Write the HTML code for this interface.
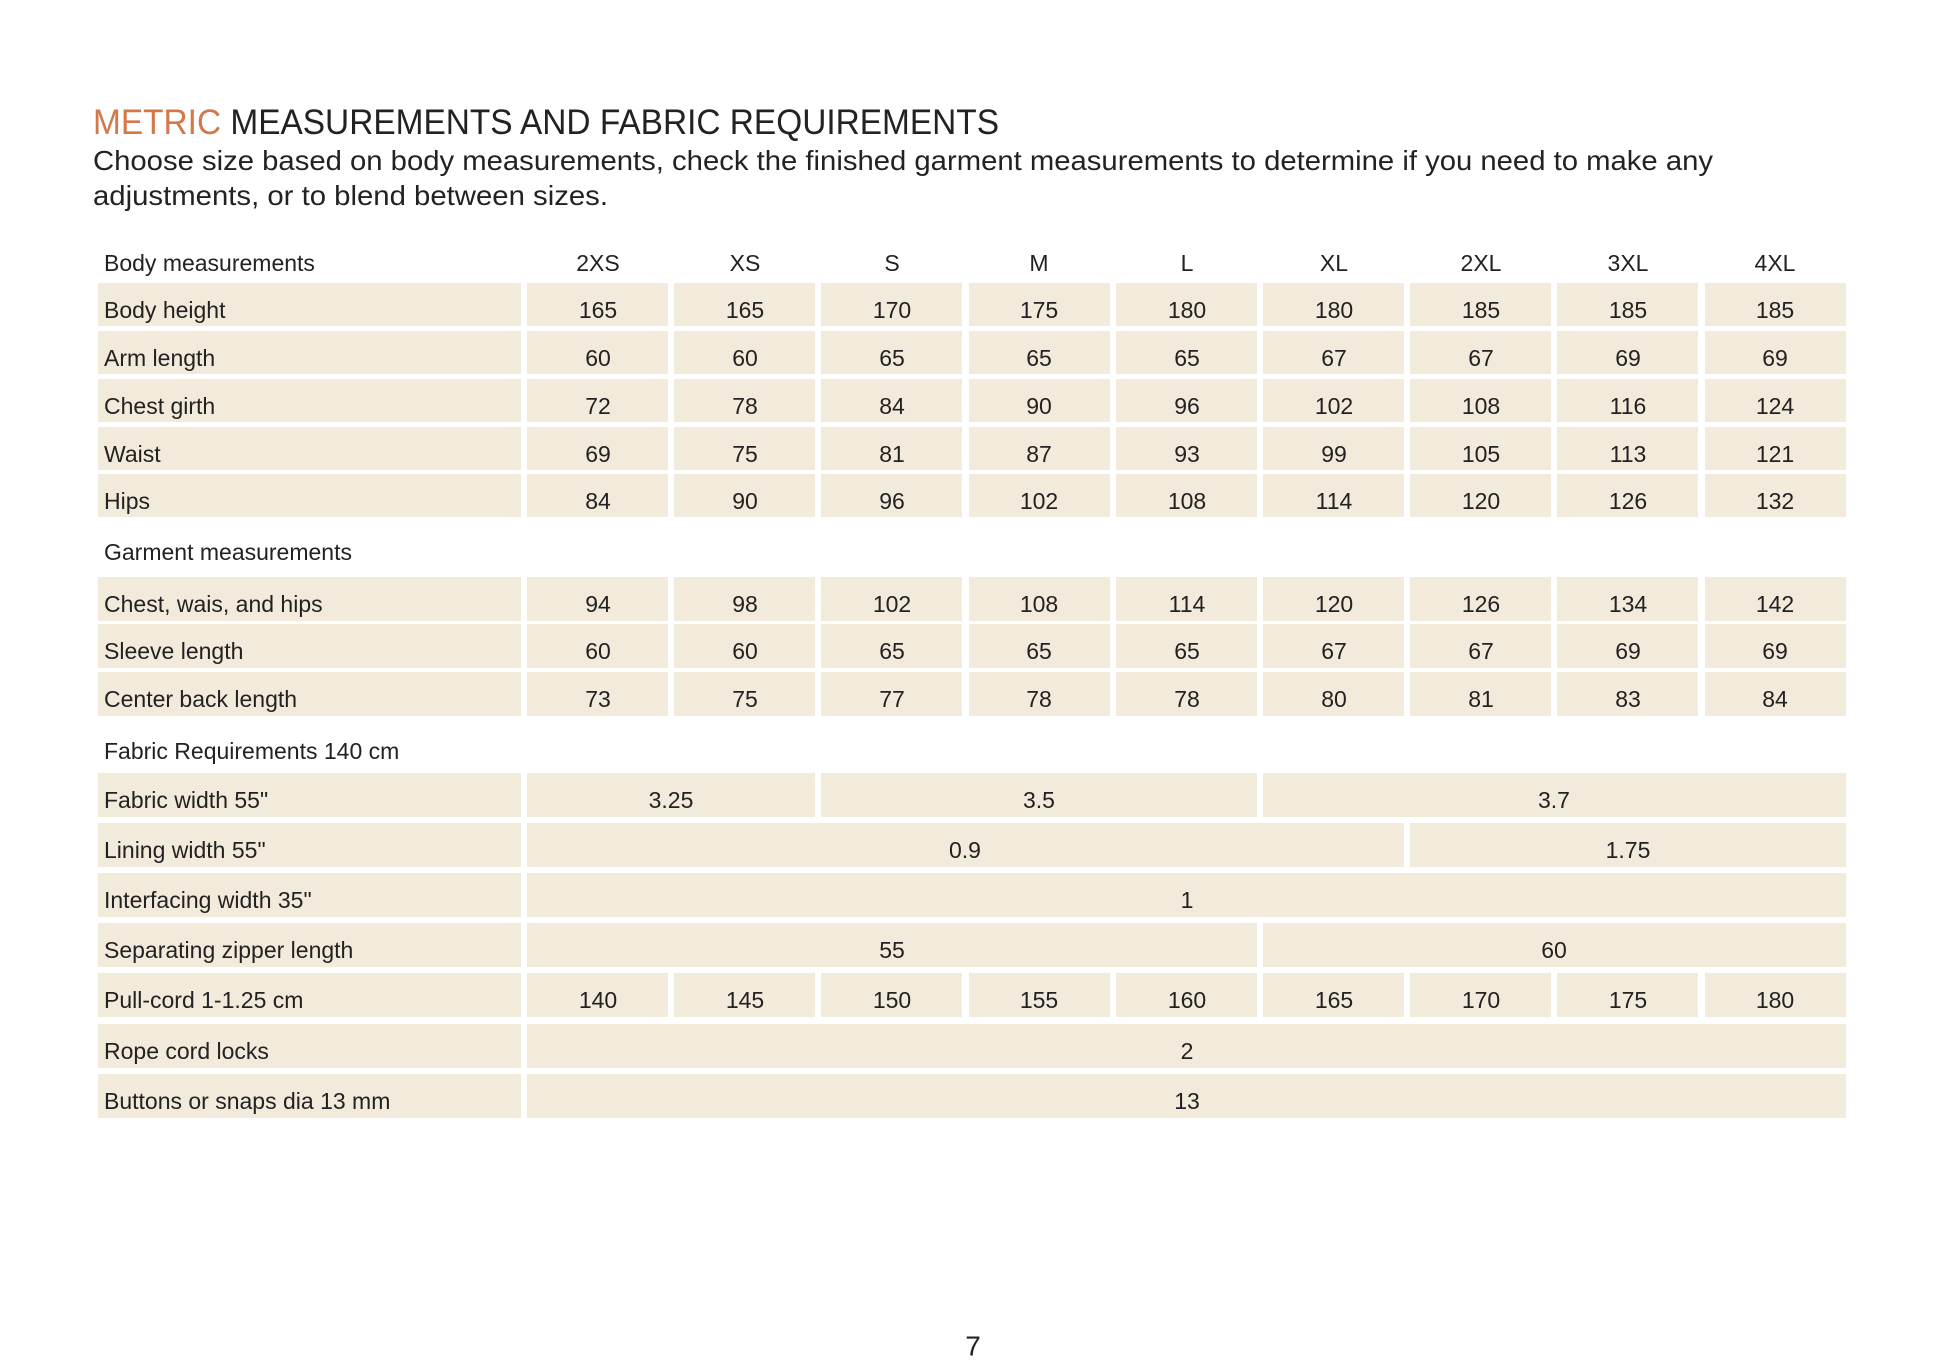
<!DOCTYPE html>
<html><head><meta charset="utf-8"><style>
html,body{margin:0;padding:0;background:#fff;}
svg{display:block;}
text{font-family:"Liberation Sans",sans-serif;}
</style></head><body>
<svg width="1946" height="1372" viewBox="0 0 1946 1372" xmlns="http://www.w3.org/2000/svg">
<rect width="1946" height="1372" fill="#fff"/>
<text x="93" y="134" font-size="35" textLength="906" lengthAdjust="spacingAndGlyphs" fill="#222"><tspan fill="#d4784a">METRIC</tspan> MEASUREMENTS AND FABRIC REQUIREMENTS</text>
<text x="93" y="170" font-size="28" textLength="1620" lengthAdjust="spacingAndGlyphs" fill="#222">Choose size based on body measurements, check the finished garment measurements to determine if you need to make any</text>
<text x="93" y="205" font-size="28" textLength="515" lengthAdjust="spacingAndGlyphs" fill="#222">adjustments, or to blend between sizes.</text>

<g fill="#f2eadb">
<rect x="98" y="283" width="423" height="43"/><rect x="98" y="331" width="423" height="43"/><rect x="98" y="379" width="423" height="43"/><rect x="98" y="427" width="423" height="43"/><rect x="98" y="474" width="423" height="43"/>
<rect x="98" y="577" width="423" height="44"/><rect x="98" y="624" width="423" height="44"/><rect x="98" y="672" width="423" height="44"/>
<rect x="98" y="773" width="423" height="44"/><rect x="98" y="823" width="423" height="44"/><rect x="98" y="873" width="423" height="44"/><rect x="98" y="923" width="423" height="44"/><rect x="98" y="973" width="423" height="44"/><rect x="98" y="1024" width="423" height="44"/><rect x="98" y="1074" width="423" height="44"/>
</g>
<g fill="#f2eadb">
<g><rect x="527" y="283" width="141" height="43"/><rect x="674" y="283" width="141" height="43"/><rect x="821" y="283" width="141" height="43"/><rect x="969" y="283" width="141" height="43"/><rect x="1116" y="283" width="141" height="43"/><rect x="1263" y="283" width="141" height="43"/><rect x="1410" y="283" width="141" height="43"/><rect x="1557" y="283" width="141" height="43"/><rect x="1705" y="283" width="141" height="43"/></g>
<g><rect x="527" y="331" width="141" height="43"/><rect x="674" y="331" width="141" height="43"/><rect x="821" y="331" width="141" height="43"/><rect x="969" y="331" width="141" height="43"/><rect x="1116" y="331" width="141" height="43"/><rect x="1263" y="331" width="141" height="43"/><rect x="1410" y="331" width="141" height="43"/><rect x="1557" y="331" width="141" height="43"/><rect x="1705" y="331" width="141" height="43"/></g>
<g><rect x="527" y="379" width="141" height="43"/><rect x="674" y="379" width="141" height="43"/><rect x="821" y="379" width="141" height="43"/><rect x="969" y="379" width="141" height="43"/><rect x="1116" y="379" width="141" height="43"/><rect x="1263" y="379" width="141" height="43"/><rect x="1410" y="379" width="141" height="43"/><rect x="1557" y="379" width="141" height="43"/><rect x="1705" y="379" width="141" height="43"/></g>
<g><rect x="527" y="427" width="141" height="43"/><rect x="674" y="427" width="141" height="43"/><rect x="821" y="427" width="141" height="43"/><rect x="969" y="427" width="141" height="43"/><rect x="1116" y="427" width="141" height="43"/><rect x="1263" y="427" width="141" height="43"/><rect x="1410" y="427" width="141" height="43"/><rect x="1557" y="427" width="141" height="43"/><rect x="1705" y="427" width="141" height="43"/></g>
<g><rect x="527" y="474" width="141" height="43"/><rect x="674" y="474" width="141" height="43"/><rect x="821" y="474" width="141" height="43"/><rect x="969" y="474" width="141" height="43"/><rect x="1116" y="474" width="141" height="43"/><rect x="1263" y="474" width="141" height="43"/><rect x="1410" y="474" width="141" height="43"/><rect x="1557" y="474" width="141" height="43"/><rect x="1705" y="474" width="141" height="43"/></g>
<g><rect x="527" y="577" width="141" height="44"/><rect x="674" y="577" width="141" height="44"/><rect x="821" y="577" width="141" height="44"/><rect x="969" y="577" width="141" height="44"/><rect x="1116" y="577" width="141" height="44"/><rect x="1263" y="577" width="141" height="44"/><rect x="1410" y="577" width="141" height="44"/><rect x="1557" y="577" width="141" height="44"/><rect x="1705" y="577" width="141" height="44"/></g>
<g><rect x="527" y="624" width="141" height="44"/><rect x="674" y="624" width="141" height="44"/><rect x="821" y="624" width="141" height="44"/><rect x="969" y="624" width="141" height="44"/><rect x="1116" y="624" width="141" height="44"/><rect x="1263" y="624" width="141" height="44"/><rect x="1410" y="624" width="141" height="44"/><rect x="1557" y="624" width="141" height="44"/><rect x="1705" y="624" width="141" height="44"/></g>
<g><rect x="527" y="672" width="141" height="44"/><rect x="674" y="672" width="141" height="44"/><rect x="821" y="672" width="141" height="44"/><rect x="969" y="672" width="141" height="44"/><rect x="1116" y="672" width="141" height="44"/><rect x="1263" y="672" width="141" height="44"/><rect x="1410" y="672" width="141" height="44"/><rect x="1557" y="672" width="141" height="44"/><rect x="1705" y="672" width="141" height="44"/></g>
<g><rect x="527" y="973" width="141" height="44"/><rect x="674" y="973" width="141" height="44"/><rect x="821" y="973" width="141" height="44"/><rect x="969" y="973" width="141" height="44"/><rect x="1116" y="973" width="141" height="44"/><rect x="1263" y="973" width="141" height="44"/><rect x="1410" y="973" width="141" height="44"/><rect x="1557" y="973" width="141" height="44"/><rect x="1705" y="973" width="141" height="44"/></g>
<rect x="527" y="773" width="288" height="44"/><rect x="821" y="773" width="436" height="44"/><rect x="1263" y="773" width="583" height="44"/>
<rect x="527" y="823" width="877" height="44"/><rect x="1410" y="823" width="436" height="44"/>
<rect x="527" y="873" width="1319" height="44"/>
<rect x="527" y="923" width="730" height="44"/><rect x="1263" y="923" width="583" height="44"/>
<rect x="527" y="1024" width="1319" height="44"/>
<rect x="527" y="1074" width="1319" height="44"/>
</g>

<g font-size="23" fill="#222" dominant-baseline="central">
<text x="104" y="263">Body measurements</text>
<text x="104" y="310">Body height</text>
<text x="104" y="358">Arm length</text>
<text x="104" y="406">Chest girth</text>
<text x="104" y="454">Waist</text>
<text x="104" y="501">Hips</text>
<text x="104" y="552">Garment measurements</text>
<text x="104" y="604">Chest, wais, and hips</text>
<text x="104" y="651">Sleeve length</text>
<text x="104" y="699">Center back length</text>
<text x="104" y="751">Fabric Requirements 140 cm</text>
<text x="104" y="800">Fabric width 55"</text>
<text x="104" y="850">Lining width 55"</text>
<text x="104" y="900">Interfacing width 35"</text>
<text x="104" y="950">Separating  zipper length</text>
<text x="104" y="1000">Pull-cord 1-1.25 cm</text>
<text x="104" y="1051">Rope cord locks</text>
<text x="104" y="1101">Buttons or snaps dia 13 mm</text>
</g>
<g font-size="23" fill="#222" dominant-baseline="central" text-anchor="middle">
<g transform="translate(0,263)"><text x="598">2XS</text><text x="745">XS</text><text x="892">S</text><text x="1039">M</text><text x="1187">L</text><text x="1334">XL</text><text x="1481">2XL</text><text x="1628">3XL</text><text x="1775">4XL</text></g>
<g transform="translate(0,310)"><text x="598">165</text><text x="745">165</text><text x="892">170</text><text x="1039">175</text><text x="1187">180</text><text x="1334">180</text><text x="1481">185</text><text x="1628">185</text><text x="1775">185</text></g>
<g transform="translate(0,358)"><text x="598">60</text><text x="745">60</text><text x="892">65</text><text x="1039">65</text><text x="1187">65</text><text x="1334">67</text><text x="1481">67</text><text x="1628">69</text><text x="1775">69</text></g>
<g transform="translate(0,406)"><text x="598">72</text><text x="745">78</text><text x="892">84</text><text x="1039">90</text><text x="1187">96</text><text x="1334">102</text><text x="1481">108</text><text x="1628">116</text><text x="1775">124</text></g>
<g transform="translate(0,454)"><text x="598">69</text><text x="745">75</text><text x="892">81</text><text x="1039">87</text><text x="1187">93</text><text x="1334">99</text><text x="1481">105</text><text x="1628">113</text><text x="1775">121</text></g>
<g transform="translate(0,501)"><text x="598">84</text><text x="745">90</text><text x="892">96</text><text x="1039">102</text><text x="1187">108</text><text x="1334">114</text><text x="1481">120</text><text x="1628">126</text><text x="1775">132</text></g>
<g transform="translate(0,604)"><text x="598">94</text><text x="745">98</text><text x="892">102</text><text x="1039">108</text><text x="1187">114</text><text x="1334">120</text><text x="1481">126</text><text x="1628">134</text><text x="1775">142</text></g>
<g transform="translate(0,651)"><text x="598">60</text><text x="745">60</text><text x="892">65</text><text x="1039">65</text><text x="1187">65</text><text x="1334">67</text><text x="1481">67</text><text x="1628">69</text><text x="1775">69</text></g>
<g transform="translate(0,699)"><text x="598">73</text><text x="745">75</text><text x="892">77</text><text x="1039">78</text><text x="1187">78</text><text x="1334">80</text><text x="1481">81</text><text x="1628">83</text><text x="1775">84</text></g>
<g transform="translate(0,800)"><text x="671">3.25</text><text x="1039">3.5</text><text x="1554">3.7</text></g>
<g transform="translate(0,850)"><text x="965">0.9</text><text x="1628">1.75</text></g>
<g transform="translate(0,900)"><text x="1187">1</text></g>
<g transform="translate(0,950)"><text x="892">55</text><text x="1554">60</text></g>
<g transform="translate(0,1000)"><text x="598">140</text><text x="745">145</text><text x="892">150</text><text x="1039">155</text><text x="1187">160</text><text x="1334">165</text><text x="1481">170</text><text x="1628">175</text><text x="1775">180</text></g>
<g transform="translate(0,1051)"><text x="1187">2</text></g>
<g transform="translate(0,1101)"><text x="1187">13</text></g>
<text x="973" y="1346" font-size="28">7</text>
</g>
</svg>
</body></html>
